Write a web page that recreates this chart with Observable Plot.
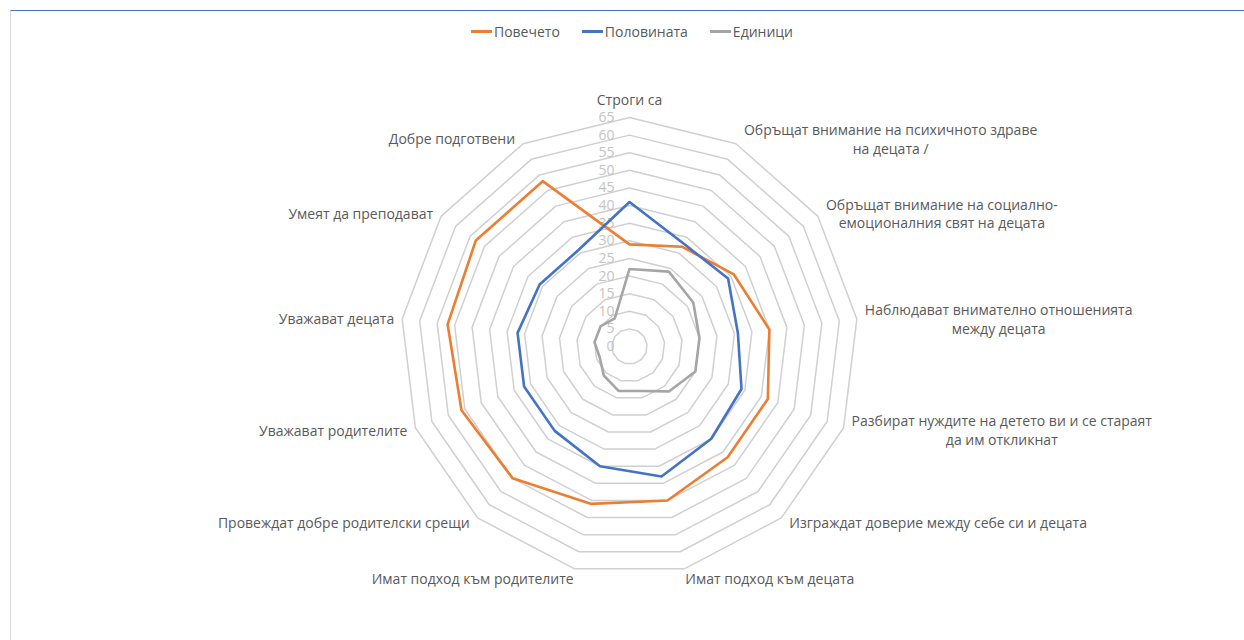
<!DOCTYPE html>
<html><head><meta charset="utf-8">
<script src="https://cdn.jsdelivr.net/npm/d3@7"></script>
<script src="https://cdn.jsdelivr.net/npm/@observablehq/plot@0.6"></script>
<style>
body{margin:0;background:#fff;}
#wrap{position:relative;width:1244px;height:640px;overflow:hidden;font-family:"Open Sans",sans-serif;background:#fff;}
#frame{position:absolute;left:10px;top:10px;width:1300px;height:700px;border-top:1px solid #4472c4;border-left:1px solid #d9d9d9;}
#legend{position:absolute;top:22px;left:10px;width:1244px;display:flex;justify-content:center;gap:22px;font-size:14px;color:#595959;line-height:19px;}
.item{display:flex;align-items:center;}
.sw{width:21px;height:3px;margin-right:2px;}
#chart{position:absolute;left:0;top:60px;}
</style></head>
<body>
<div id="wrap">
  <div id="frame"></div>
  <div id="legend"></div>
  <div id="chart"></div>
</div>
<script>
const categories = [
  "Строги са",
  "Обръщат внимание на психичното здраве\nна децата /",
  "Обръщат внимание на социално-\nемоционалния свят на децата",
  "Наблюдават внимателно отношенията\nмежду децата",
  "Разбират нуждите на детето ви и се стараят\nда им откликнат",
  "Изграждат доверие между себе си и децата",
  "Имат подход към децата",
  "Имат подход към родителите",
  "Провеждат добре родителски срещи",
  "Уважават родителите",
  "Уважават децата",
  "Умеят да преподават",
  "Добре подготвени"
];
const seriesNames = ["Повечето", "Половината", "Единици"];
const povecheto  = [29, 32, 36, 40, 42, 42, 45, 46, 50, 51, 52, 53, 53];
const polovinata = [41, 33, 34, 31, 34, 35, 38, 35, 32, 32, 32, 31, 31];
const edinici    = [22, 24, 22, 20, 20, 17, 13, 13, 11, 9, 10, 10, 9];
const tickValues = [0, 5, 10, 15, 20, 25, 30, 35, 40, 45, 50, 55, 60, 65];
const seriesColors = ["#ED7D31", "#4472C4", "#A5A5A5"];

const W = 1244, H = 580, cx = 629, cy = 286, R = 229;
const vmax = d3.max(tickValues);
const k = vmax / R;
const n = categories.length;
const ang = i => 2 * Math.PI * i / n;

// legend
const leg = document.getElementById("legend");
seriesNames.forEach((s, i) => {
  const it = document.createElement("div"); it.className = "item";
  const sw = document.createElement("div"); sw.className = "sw"; sw.style.background = seriesColors[i];
  const tx = document.createElement("span"); tx.textContent = s;
  it.appendChild(sw); it.appendChild(tx); leg.appendChild(it);
});

const rings = tickValues.filter(v => v > 0).flatMap(v =>
  categories.map((_, i) => ({v, x: v * Math.sin(ang(i)), y: v * Math.cos(ang(i))})));

const seriesData = [povecheto, polovinata, edinici].flatMap((arr, si) =>
  arr.map((v, i) => ({s: seriesNames[si], x: v * Math.sin(ang(i)), y: v * Math.cos(ang(i))})));

const FS = 14;
const ctx = document.createElement("canvas").getContext("2d");
ctx.font = FS + "px 'Open Sans'";
const labels = categories.map((lab, i) => {
  const s = Math.sin(ang(i)), c = Math.cos(ang(i));
  const vx = R * s, vy = R * c;
  const w = d3.max(lab.split("\n"), l => ctx.measureText(l).width);
  let px, py;
  if (Math.abs(s) < 0.05) { px = vx; py = vy + 19; }
  else if (Math.abs(s) < 0.3) { px = vx + Math.sign(s) * (w / 2 + 1); py = vy - 9; }
  else { px = vx + Math.sign(s) * (w / 2 + 8); py = vy + 6 * c; }
  return {text: lab, x: px * k, y: py * k};
});

const chart = Plot.plot({
  width: W, height: H,
  marginTop: 0, marginBottom: 0, marginLeft: 0, marginRight: 0,
  x: {axis: null, domain: [-cx * k, (W - cx) * k], range: [0, W]},
  y: {axis: null, domain: [-(H - cy) * k, cy * k], range: [H, 0]},
  style: {fontFamily: "'Open Sans', sans-serif", background: "transparent"},
  marks: [
    Plot.line(rings, {x: "x", y: "y", z: "v", curve: "linear-closed", stroke: "#d0d0d0", strokeWidth: 1.5}),
    Plot.text(tickValues, {x: () => 0, y: d => d, text: d => String(d), textAnchor: "end", dx: -15, fill: "#c4c4c4", fontSize: FS}),
    Plot.line(seriesData, {x: "x", y: "y", z: "s", stroke: "s", curve: "linear-closed", strokeWidth: 2.6}),
    Plot.text(labels, {x: "x", y: "y", text: "text", textAnchor: "middle", lineAnchor: "middle", fill: "#595959", fontSize: FS, lineHeight: 1.35})
  ],
  color: {domain: seriesNames, range: seriesColors}
});
document.getElementById("chart").appendChild(chart);
</script>
</body></html>
